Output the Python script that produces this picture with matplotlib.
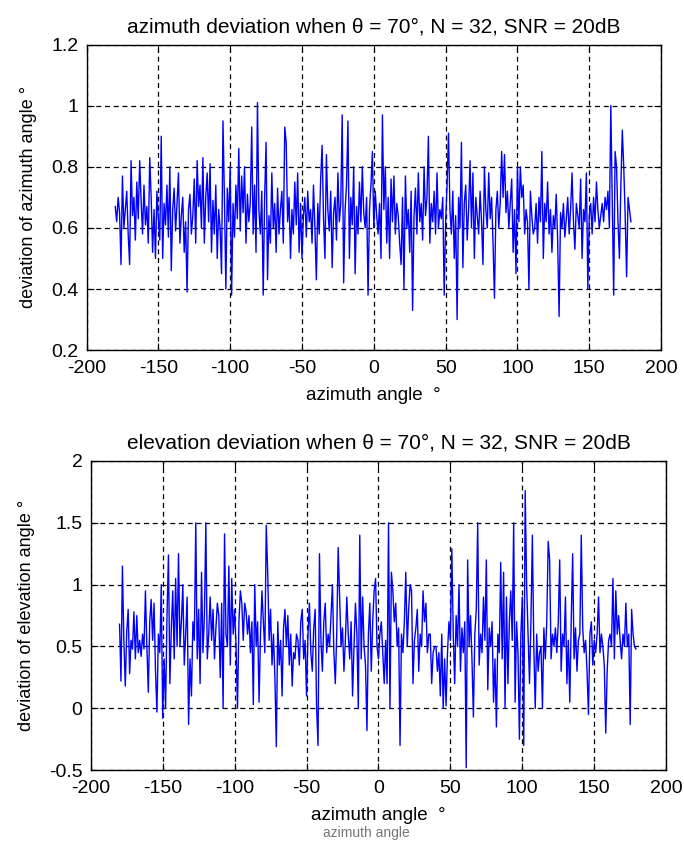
import numpy as np
import matplotlib
matplotlib.use("Agg")
import matplotlib.pyplot as plt
from matplotlib.ticker import FuncFormatter

# azimuth grid, one sample per degree
azimuth = np.arange(-180, 180)

# azimuth deviation (deg)
az_dev = [
    0.67, 0.62, 0.70, 0.65, 0.48, 0.77, 0.60, 0.66, 0.72, 0.58,
    0.48, 0.82, 0.64, 0.70, 0.56, 0.75, 0.63, 0.82, 0.69, 0.58,
    0.74, 0.61, 0.67, 0.55, 0.83, 0.70, 0.52, 0.66, 0.50, 0.72,
    0.63, 0.56, 0.90, 0.50, 0.68, 0.61, 0.74, 0.57, 0.80, 0.46,
    0.66, 0.73, 0.59, 0.68, 0.78, 0.55, 0.64, 0.70, 0.52, 0.62,
    0.39, 0.66, 0.71, 0.58, 0.64, 0.76, 0.55, 0.82, 0.67, 0.74,
    0.60, 0.83, 0.55, 0.70, 0.78, 0.62, 0.81, 0.52, 0.69, 0.58,
    0.74, 0.50, 0.66, 0.60, 0.45, 0.95, 0.70, 0.40, 0.73, 0.62,
    0.80, 0.38, 0.68, 0.57, 0.74, 0.63, 0.86, 0.59, 0.77, 0.65,
    0.80, 0.55, 0.71, 0.62, 0.68, 0.93, 0.58, 0.74, 0.52, 1.01,
    0.66, 0.58, 0.72, 0.38, 0.70, 0.88, 0.43, 0.64, 0.55, 0.78,
    0.60, 0.68, 0.52, 0.73, 0.58, 0.66, 0.72, 0.55, 0.93, 0.88,
    0.62, 0.70, 0.50, 0.66, 0.58, 0.75, 0.61, 0.78, 0.52, 0.68,
    0.50, 0.64, 0.70, 0.57, 0.72, 0.62, 0.66, 0.55, 0.74, 0.60,
    0.43, 0.68, 0.58, 0.76, 0.87, 0.63, 0.50, 0.84, 0.66, 0.59,
    0.72, 0.47, 0.65, 0.70, 0.56, 0.78, 0.62, 0.68, 0.97, 0.42,
    0.66, 0.74, 0.95, 0.50, 0.70, 0.61, 0.80, 0.45, 0.67, 0.58,
    0.75, 0.62, 0.80, 0.65, 0.60, 0.70, 0.38, 0.66, 0.74, 0.85,
    0.60, 0.72, 0.64, 0.58, 0.68, 0.50, 0.97, 0.66, 0.80, 0.55,
    0.70, 0.50, 0.76, 0.62, 0.77, 0.58, 0.68, 0.64, 0.55, 0.48,
    0.70, 0.40, 0.77, 0.60, 0.66, 0.52, 0.72, 0.33, 0.64, 0.73,
    0.58, 0.78, 0.62, 0.68, 0.56, 0.80, 0.64, 0.70, 0.90, 0.55,
    0.68, 0.62, 0.72, 0.58, 0.78, 0.60, 0.66, 0.63, 0.70, 0.38,
    0.62, 0.74, 0.91, 0.66, 0.58, 0.72, 0.50, 0.64, 0.30, 0.70,
    0.60, 0.88, 0.47, 0.68, 0.74, 0.56, 0.66, 0.82, 0.60, 0.78,
    0.50, 0.70, 0.64, 0.58, 0.72, 0.62, 0.48, 0.80, 0.66, 0.60,
    0.78, 0.63, 0.70, 0.55, 0.37, 0.66, 0.72, 0.60, 0.68, 0.85,
    0.70, 0.84, 0.65, 0.72, 0.60, 0.68, 0.76, 0.52, 0.66, 0.45,
    0.80, 0.62, 0.80, 0.70, 0.74, 0.58, 0.66, 0.62, 0.40, 0.72,
    0.64, 0.58, 0.60, 0.68, 0.55, 0.70, 0.62, 0.85, 0.50, 0.68,
    0.62, 0.75, 0.58, 0.66, 0.52, 0.64, 0.60, 0.71, 0.56, 0.31,
    0.65, 0.60, 0.68, 0.57, 0.63, 0.70, 0.58, 0.66, 0.78, 0.62,
    0.53, 0.68, 0.64, 0.60, 0.76, 0.50, 0.66, 0.62, 0.78, 0.40,
    0.64, 0.68, 0.58, 0.70, 0.62, 0.75, 0.66, 0.60, 0.64, 0.68,
    0.62, 0.70, 0.66, 0.72, 0.60, 1.00, 0.68, 0.38, 0.85, 0.80,
    0.62, 0.50, 0.74, 0.92, 0.80, 0.64, 0.44, 0.70, 0.66, 0.62,
]

# elevation deviation (deg)
el_dev = [
    0.68, 0.22, 1.15, 0.55, 0.18, 0.62, 0.80, 0.28, 0.55, 0.48,
    0.78, 0.40, 0.75, 0.45, 0.55, 0.42, 0.60, 0.48, 0.95, 0.50,
    0.13, 0.70, 0.88, 0.55, 0.85, 0.30, -0.03, 0.60, 0.45, 1.00,
    -0.08, 0.40, 0.00, 0.75, 1.24, 0.20, 0.65, 0.95, 0.40, 1.05,
    0.50, 1.25, 0.50, 0.70, 1.00, 0.35, 0.60, 0.90, -0.13, 0.40,
    0.10, 0.70, 0.55, 1.50, 0.40, 0.80, 0.20, 1.10, 0.45, 0.75,
    1.50, 0.40, 0.60, 0.90, 0.55, 0.80, 0.40, 0.65, 0.85, 0.75,
    0.25, 0.85, 0.00, 1.41, 0.60, 0.50, 1.15, 0.35, 1.05, 0.60,
    0.80, 0.50, 0.00, 0.70, 0.95, 0.85, 0.55, 0.85, 0.78, 0.60,
    0.75, 0.45, 0.70, 0.03, 1.00, 0.50, 0.70, 0.05, 0.60, 0.95,
    0.70, 0.45, 1.48, 1.10, 0.55, 0.80, 0.35, 0.60, 0.25, -0.31,
    0.70, 0.35, 0.55, 0.10, 0.65, 0.80, 0.50, 0.75, 0.35, 0.60,
    0.18, 0.45, 0.40, 0.60, 0.55, 0.35, 0.70, 0.80, 0.40, 0.55,
    0.10, 0.60, 0.85, 0.45, 0.30, 0.65, 0.80, 0.00, -0.30, 1.25,
    0.55, 0.30, 0.70, 0.85, 0.45, 0.60, 0.50, 0.75, 1.00, 0.45,
    0.20, 0.60, 1.30, 0.90, 0.50, 0.65, 0.30, 0.55, 0.90, 0.60,
    0.40, 0.70, 0.10, 0.50, 0.85, 0.60, 0.00, 1.40, 0.40, 0.90,
    0.50, 0.35, -0.18, 0.60, 0.85, 0.30, 0.70, 0.95, 1.05, 0.50,
    0.40, 0.60, 0.70, 0.45, 0.20, 0.55, 0.20, 1.50, 0.00, 1.10,
    0.95, 0.70, 0.85, 0.50, 0.65, -0.30, 0.60, 0.45, 0.70, 1.10,
    0.50, 0.80, 1.00, 0.95, 0.20, 0.55, 0.65, 0.80, 0.30, 0.60,
    0.50, 0.95, 0.70, 0.85, 0.45, 0.60, 0.60, 0.20, 0.45, 0.50,
    0.50, 0.30, 0.45, 0.10, 0.60, 0.00, 0.40, 0.02, 0.45, 0.70,
    0.55, 1.29, 0.60, 0.20, 0.75, 0.50, 1.00, 0.30, 0.65, 0.45,
    0.70, -0.48, 1.20, 0.50, 0.75, 0.40, -0.07, 0.60, 0.80, 1.50,
    0.35, 0.60, 0.45, 0.90, 0.55, 1.20, 0.15, 0.65, 0.50, 0.70,
    0.05, 0.40, -0.15, 0.60, 0.45, 1.18, 0.40, 1.10, 0.00, 0.90,
    0.20, 0.70, 0.95, 0.55, 1.50, 0.05, 0.70, 0.45, -0.25, 0.60,
    0.90, -0.30, 1.76, 1.00, 0.60, 0.20, 0.70, 1.40, 0.50, 0.00,
    0.60, 0.30, 0.45, 0.50, 0.00, 0.65, 0.40, 0.70, 1.35, 1.20,
    0.40, 0.60, 0.50, 0.65, 0.45, 0.70, 1.20, 0.30, 0.60, 0.50,
    0.90, 0.20, 0.55, 0.05, 0.70, 1.25, 0.40, 0.65, 0.30, 0.55,
    0.60, 1.40, 0.65, 0.45, 0.55, 0.30, -0.05, 0.60, 0.70, 0.35,
    0.55, 0.45, 0.60, 0.90, 0.45, 0.60, 0.50, 0.35, -0.20, 0.30,
    0.55, 0.60, 0.50, 1.05, 0.40, 0.95, 0.60, 0.75, 0.55, 0.40,
    0.60, 0.50, 0.85, 0.50, 0.60, -0.13, 0.80, 0.60, 0.50, 0.48,
]

x_ticks = [-200, -150, -100, -50, 0, 50, 100, 150, 200]
az_yticks = [0.2, 0.4, 0.6, 0.8, 1.0, 1.2]
el_yticks = [-0.5, 0, 0.5, 1, 1.5, 2]

top_title = "azimuth deviation when \u03b8 = 70\u00b0, N = 32, SNR = 20dB"
bot_title = "elevation deviation when \u03b8 = 70\u00b0, N = 32, SNR = 20dB"
xlab = "azimuth angle  \u00b0"

plt.rcParams['font.family'] = ['Liberation Sans', 'DejaVu Sans']
plt.rcParams['font.size'] = 14


def g_fmt(v, pos):
    return "%g" % v


def style_axes(ax, yticks, ylabel, title):
    ax.set_xlim(-200, 200)
    ax.set_ylim(yticks[0], yticks[-1])
    ax.set_xticks(x_ticks)
    ax.set_yticks(yticks)
    ax.xaxis.set_major_formatter(FuncFormatter(g_fmt))
    ax.yaxis.set_major_formatter(FuncFormatter(g_fmt))
    ax.tick_params(direction='in', length=5, width=0.8, top=True, right=True,
                   labelsize=14)
    ax.tick_params(axis='x', pad=7)
    ax.tick_params(axis='y', pad=6)
    ax.grid(True, color='black', linestyle=(0, (4, 3)), linewidth=0.9)
    for sp in ax.spines.values():
        sp.set_linewidth(1.0)
    ax.set_ylabel(ylabel, fontsize=13, labelpad=10)
    ax.set_xlabel(xlab, fontsize=13.5, labelpad=7)
    ax.set_title(title, fontsize=15, pad=9)


fig = plt.figure(figsize=(6.84, 8.41), dpi=100)

ax1 = fig.add_axes([0.1265, 0.5837, 0.840, 0.3633])
ax1.plot(azimuth, az_dev, color='#0000ff', linewidth=1.0)
style_axes(ax1, az_yticks, "deviation of azimuth angle \u00b0", top_title)

ax2 = fig.add_axes([0.1327, 0.0842, 0.8412, 0.3677])
ax2.plot(azimuth, el_dev, color='#0000ff', linewidth=1.0)
style_axes(ax2, el_yticks, "deviation of elevation angle \u00b0", bot_title)

# faint duplicate of the x label at the very bottom edge
fig.text(0.535, 0.001, "azimuth angle", fontsize=10, color='#777777',
         ha='center', va='bottom')

fig.savefig("out.png", dpi=100)
